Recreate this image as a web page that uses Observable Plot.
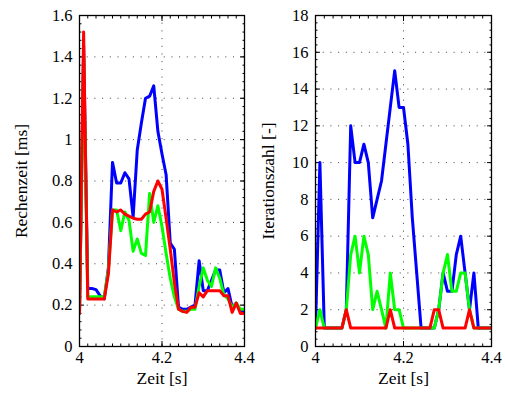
<!DOCTYPE html>
<html>
<head>
<meta charset="utf-8">
<script src="https://cdn.jsdelivr.net/npm/d3@7"></script>
<script src="https://cdn.jsdelivr.net/npm/@observablehq/plot@0.6"></script>
<style>
  html, body { margin: 0; padding: 0; background: #fff; }
  #wrap { display: flex; width: 505px; height: 394px; }
  #wrap svg, #wrap svg text { font-family: "Liberation Serif", serif !important; }
</style>
</head>
<body>
<div id="wrap"></div>
<script>
// Zeit [s]
const time = [4.00,4.01,4.02,4.03,4.04,4.05,4.06,4.07,4.08,4.09,4.10,4.11,4.12,4.13,4.14,4.15,4.16,4.17,4.18,4.19,4.20,
              4.21,4.22,4.23,4.24,4.25,4.26,4.27,4.28,4.29,4.30,4.31,4.32,4.33,4.34,4.35,4.36,4.37,4.38,4.39,4.40];

// Rechenzeit [ms]
const rechenBlue  = [0.16,1.45,0.28,0.28,0.275,0.245,0.23,0.38,0.89,0.79,0.79,0.84,0.81,0.625,0.95,1.08,1.20,1.21,1.26,1.04,0.93,
                     0.83,0.50,0.47,0.19,0.18,0.18,0.19,0.20,0.415,0.27,0.27,0.32,0.37,0.37,0.26,0.28,0.19,0.21,0.17,0.17];
const rechenGreen = [0.16,1.40,0.24,0.24,0.24,0.24,0.24,0.37,0.66,0.66,0.56,0.65,0.61,0.46,0.52,0.45,0.44,0.74,0.60,0.68,0.58,
                     0.45,0.33,0.24,0.18,0.17,0.17,0.18,0.18,0.29,0.38,0.32,0.29,0.38,0.33,0.25,0.23,0.19,0.21,0.18,0.18];
const rechenRed   = [0.16,1.52,0.23,0.23,0.23,0.23,0.23,0.35,0.66,0.65,0.66,0.64,0.63,0.62,0.615,0.615,0.64,0.65,0.75,0.80,0.76,
                     0.62,0.47,0.31,0.18,0.17,0.165,0.19,0.19,0.26,0.24,0.27,0.27,0.27,0.27,0.245,0.245,0.165,0.21,0.16,0.16];

// Iterationszahl [-]
const iterBlue  = [1,10,1,1,1,1,1,2,12,10,10,11,10,7,8,9,11,13,15,13,13,
                   11,7,4,1,1,1,1,2,4,3,3,5,6,4,2,4,1,1,1,1];
const iterGreen = [1,2,1,1,1,1,1,2,5,6,4,6,5,2,3,2,1,4,2,2,1,
                   1,1,1,1,1,1,1,2,4,5,3,3,4,4,2,1,1,1,1,1];
const iterRed   = [1,1,1,1,1,1,1,2,1,1,1,1,1,1,1,1,1,2,1,1,1,
                   1,1,1,1,1,1,2,2,1,1,1,1,1,1,2,1,1,1,1,1];

// Ticks
const xTicks = [4, 4.2, 4.4];
const yTicksLeft = [0,0.2,0.4,0.6,0.8,1,1.2,1.4,1.6];
const yTicksRight = [0,2,4,6,8,10,12,14,16,18];
const yMinorLeft = d3.range(0, 1.6001, 0.04);
const yMinorRight = d3.range(0, 18.001, 0.4);
const xMinor = d3.range(4, 4.4001, 0.02);

const seriesColors = ["#0000ff", "#00ff00", "#ff0000"];
const fmt = d => String(+(+d).toFixed(2));
const FONT = "Liberation Serif";

function panel({width, marginLeft, marginRight, yDomain, yTicks, yMinor, series, title, titleDx}) {
  const gridStyle = {stroke: "#000", strokeOpacity: 0.75, strokeWidth: 1, strokeDasharray: "1,6.7"};
  const inTick = {tickFormat: () => "", label: null, strokeWidth: 1};
  return Plot.plot({
    width, height: 394,
    marginLeft, marginRight, marginTop: 15, marginBottom: 48,
    style: {fontFamily: FONT, fontSize: "16.5px", background: "#fff", color: "#000", overflow: "visible"},
    x: {domain: [4, 4.4]},
    y: {domain: yDomain},
    marks: [
      Plot.gridY({ticks: yTicks, ...gridStyle}),
      Plot.gridX({ticks: xTicks, ...gridStyle}),
      // inward major ticks on all sides
      Plot.axisY({ticks: yTicks, anchor: "left", tickSize: 5, dx: 5, ...inTick}),
      Plot.axisY({ticks: yTicks, anchor: "right", tickSize: 5, dx: -5, ...inTick}),
      Plot.axisX({ticks: xTicks, anchor: "bottom", tickSize: 5, dy: -5, ...inTick}),
      Plot.axisX({ticks: xTicks, anchor: "top", tickSize: 5, dy: 5, ...inTick}),
      // inward minor ticks
      Plot.axisY({ticks: yMinor, anchor: "left", tickSize: 2.5, dx: 2.5, ...inTick}),
      Plot.axisY({ticks: yMinor, anchor: "right", tickSize: 2.5, dx: -2.5, ...inTick}),
      Plot.axisX({ticks: xMinor, anchor: "bottom", tickSize: 2.5, dy: -2.5, ...inTick}),
      Plot.axisX({ticks: xMinor, anchor: "top", tickSize: 2.5, dy: 2.5, ...inTick}),
      // tick labels
      Plot.axisY({ticks: yTicks, anchor: "left", tickSize: 0, tickPadding: 7, tickFormat: fmt, label: null, fontFamily: FONT, fontSize: 16.5, fill: "#000"}),
      Plot.axisX({ticks: xTicks, anchor: "bottom", tickSize: 0, tickPadding: 5, tickFormat: fmt, label: null, fontFamily: FONT, fontSize: 16.5, fill: "#000"}),
      // data
      ...series.map((ys, k) => Plot.line(time, {x: time, y: ys, stroke: seriesColors[k], strokeWidth: 3, strokeLinejoin: "round", clip: true})),
      Plot.frame({stroke: "#000", strokeWidth: 1.3}),
      // titles
      Plot.text([title], {frameAnchor: "left", dx: titleDx, rotate: -90, text: d => d, fontFamily: FONT, fontSize: 17.5, textAnchor: "middle", fill: "#000"}),
      Plot.text(["Zeit [s]"], {frameAnchor: "bottom", dy: 37.5, text: d => d, fontFamily: FONT, fontSize: 17.5, fill: "#000"})
    ]
  });
}

const left = panel({
  width: 260, marginLeft: 79, marginRight: 16,
  yDomain: [0, 1.6], yTicks: yTicksLeft, yMinor: yMinorLeft,
  series: [rechenBlue, rechenGreen, rechenRed],
  title: "Rechenzeit [ms]", titleDx: -58
});
const right = panel({
  width: 245, marginLeft: 55, marginRight: 14,
  yDomain: [0, 18], yTicks: yTicksRight, yMinor: yMinorRight,
  series: [iterBlue, iterGreen, iterRed],
  title: "Iterationszahl [-]", titleDx: -47
});
const wrap = document.getElementById("wrap");
wrap.appendChild(left);
wrap.appendChild(right);
</script>
</body>
</html>
